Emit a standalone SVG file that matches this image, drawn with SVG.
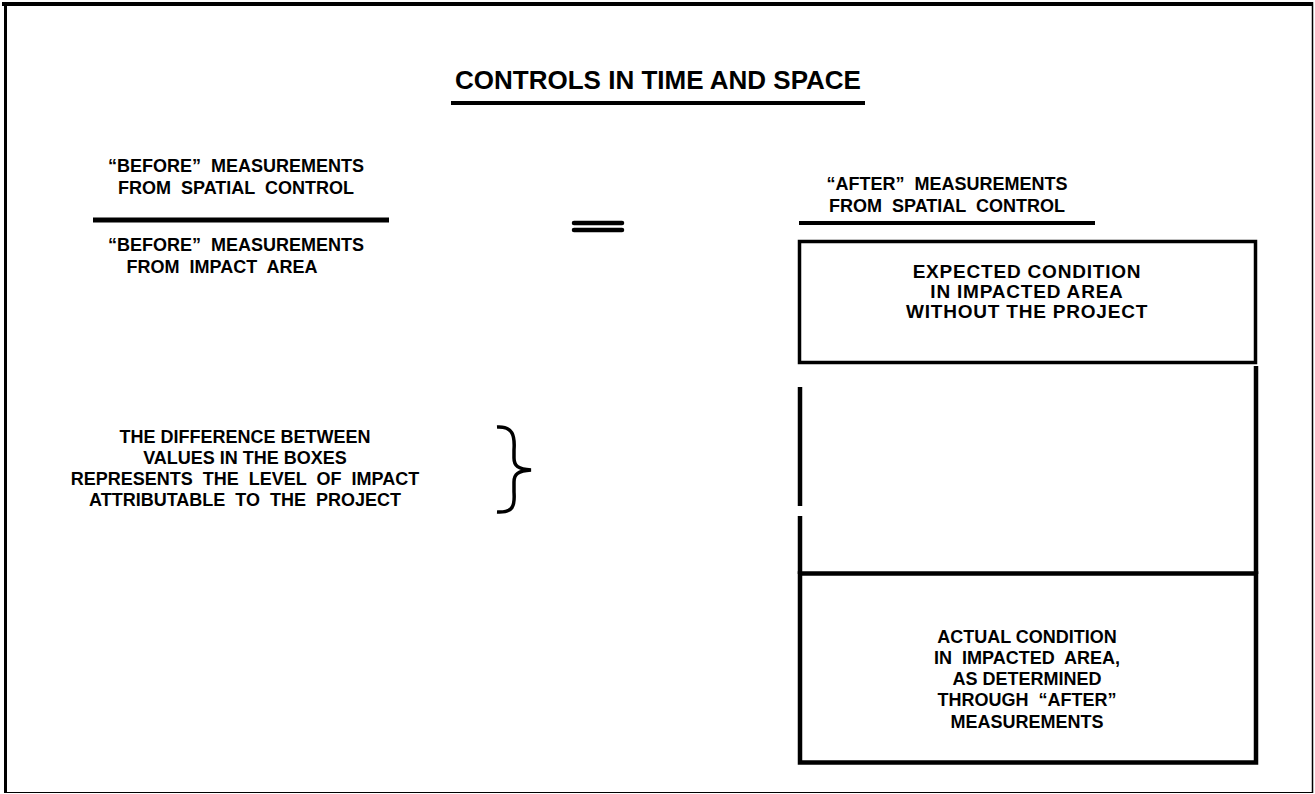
<svg xmlns="http://www.w3.org/2000/svg" width="1315" height="794" viewBox="0 0 1315 794">
<style>
text{font-family:"Liberation Sans",Arial,sans-serif;font-weight:bold;fill:#000;text-anchor:middle}
.t{font-size:18px}
.b{font-size:19px;letter-spacing:0.8px}
.title{font-size:26px}
.ln{stroke:#000;fill:none}
</style>
<rect width="1315" height="794" fill="#fff"/>
<g id="frame">
<line class="ln" x1="2" y1="4" x2="1313" y2="4" stroke-width="4"/>
<line class="ln" x1="5.5" y1="2" x2="5.5" y2="793" stroke-width="3"/>
<line class="ln" x1="1312.5" y1="2" x2="1312.5" y2="793" stroke-width="1.5"/>
<line class="ln" x1="4" y1="792.5" x2="1313" y2="792.5" stroke-width="1"/>
</g>
<g id="title">
<text class="title" x="658" y="89">CONTROLS IN TIME AND SPACE</text>
<line class="ln" x1="451" y1="103" x2="865" y2="103" stroke-width="4"/>
</g>
<g id="before-ratio">
<text class="t" x="236" y="172" xml:space="preserve">“BEFORE”  MEASUREMENTS</text>
<text class="t" x="236" y="194" xml:space="preserve">FROM  SPATIAL  CONTROL</text>
<line class="ln" x1="93" y1="220" x2="389" y2="220" stroke-width="5"/>
<text class="t" x="236" y="251" xml:space="preserve">“BEFORE”  MEASUREMENTS</text>
<text class="t" x="222" y="273" xml:space="preserve">FROM  IMPACT  AREA</text>
</g>
<g id="equals">
<line class="ln" x1="574" y1="223" x2="622" y2="223" stroke-width="4.5" stroke-linecap="round"/>
<line class="ln" x1="574" y1="230" x2="622" y2="230" stroke-width="4.5" stroke-linecap="round"/>
</g>
<g id="after-label">
<text class="t" x="947" y="190" xml:space="preserve">“AFTER”  MEASUREMENTS</text>
<text class="t" x="947" y="212" xml:space="preserve">FROM  SPATIAL  CONTROL</text>
<line class="ln" x1="799" y1="223" x2="1095" y2="223" stroke-width="4"/>
</g>
<g id="expected-box">
<rect class="ln" x="799.5" y="241.5" width="456" height="121" stroke-width="3.5"/>
<text class="b" x="1027" y="278">EXPECTED CONDITION</text>
<text class="b" x="1027" y="298">IN IMPACTED AREA</text>
<text class="b" x="1027" y="318">WITHOUT THE PROJECT</text>
</g>
<g id="connectors">
<line class="ln" x1="1256" y1="366" x2="1256" y2="574" stroke-width="4.5"/>
<line class="ln" x1="800" y1="387" x2="800" y2="506" stroke-width="4.5"/>
<line class="ln" x1="800" y1="516" x2="800" y2="574" stroke-width="4.5"/>
</g>
<g id="actual-box">
<rect class="ln" x="800" y="573.5" width="456" height="189" stroke-width="4.5"/>
<text class="t" x="1027" y="643">ACTUAL CONDITION</text>
<text class="t" x="1027" y="664" xml:space="preserve">IN  IMPACTED  AREA,</text>
<text class="t" x="1027" y="685">AS DETERMINED</text>
<text class="t" x="1027" y="706" xml:space="preserve">THROUGH  “AFTER”</text>
<text class="t" x="1027" y="728">MEASUREMENTS</text>
</g>
<g id="difference-note">
<text class="t" x="245" y="443">THE DIFFERENCE BETWEEN</text>
<text class="t" x="245" y="464">VALUES IN THE BOXES</text>
<text class="t" x="245" y="485" xml:space="preserve">REPRESENTS  THE  LEVEL  OF  IMPACT</text>
<text class="t" x="245" y="506" xml:space="preserve">ATTRIBUTABLE  TO  THE  PROJECT</text>
<path class="ln" stroke-width="3.5" d="M497,427 C513,426 515,436 514,450 L514,458 C514,466 518,469 531,470 C518,471 514,474 514,482 L514,492 C515,506 513,513 497,512"/>
</g>
</svg>
